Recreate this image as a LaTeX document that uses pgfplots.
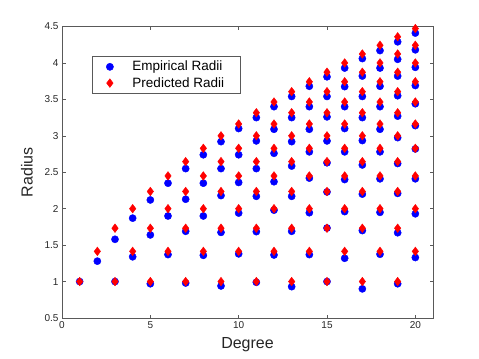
\documentclass[border=0pt]{standalone}
\usepackage{pgfplots}
\pgfplotsset{compat=1.18}
\usepackage{fontspec}
\setmainfont{Liberation Sans}
\begin{document}
\begin{tikzpicture}
\useasboundingbox (0,0) rectangle (479bp,359bp);
\begin{axis}[
  at={(62bp,41bp)}, anchor=south west,
  scale only axis, width=371bp, height=291.5bp,
  xmin=0, xmax=21, ymin=0.5, ymax=4.5,
  xtick={0,5,10,15,20},
  ytick={0.5,1,1.5,2,2.5,3,3.5,4,4.5},
  tick align=inside, tick pos=both,
  major tick length=3.5bp,
  axis line style={black!65, line width=0.5bp},
  every tick/.style={black!65, line width=0.5bp},
  /pgf/number format/assume math mode=true,
  tick label style={font=\fontsize{10bp}{12bp}\selectfont, text=black!85},
  xlabel={Degree}, ylabel={Radius},
  label style={font=\fontsize{16bp}{19bp}\selectfont, text=black!85},
  xlabel style={yshift=-2bp},
  ylabel style={yshift=5bp},
  legend style={at={(rel axis cs:0.081,0.899)}, anchor=north west,
    draw=black!65, line width=0.5bp, inner xsep=14bp, inner ysep=3bp,
    font=\fontsize{13.5bp}{16bp}\selectfont, column sep=17bp, row sep=1bp,
    cells={anchor=west}},
]
\addplot[only marks, mark=*, mark size=3.6bp, color=blue, mark options={draw=blue, fill=blue}] coordinates {
(1,1.00)
(2,1.28)
(3,1.58) (3,1.00)
(4,1.87) (4,1.34)
(5,2.12) (5,1.64) (5,0.97)
(6,2.35) (6,1.90) (6,1.37)
(7,2.55) (7,2.13) (7,1.69) (7,0.98)
(8,2.74) (8,2.35) (8,1.90) (8,1.36)
(9,2.92) (9,2.55) (9,2.18) (9,1.675) (9,0.94)
(10,3.10) (10,2.74) (10,2.36) (10,1.94) (10,1.38)
(11,3.25) (11,2.93) (11,2.55) (11,2.17) (11,1.685) (11,0.99)
(12,3.40) (12,3.09) (12,2.76) (12,2.37) (12,1.98) (12,1.365)
(13,3.54) (13,3.25) (13,2.92) (13,2.585) (13,2.17) (13,1.69) (13,0.93)
(14,3.68) (14,3.40) (14,3.09) (14,2.78) (14,2.42) (14,1.945) (14,1.37)
(15,3.81) (15,3.54) (15,3.26) (15,2.93) (15,2.63) (15,2.23) (15,1.735) (15,1.00)
(16,3.93) (16,3.675) (16,3.40) (16,3.10) (16,2.78) (16,2.40) (16,1.96) (16,1.32)
(17,4.06) (17,3.82) (17,3.54) (17,3.25) (17,2.935) (17,2.60) (17,2.20) (17,1.70) (17,0.90)
(18,4.17) (18,3.93) (18,3.68) (18,3.40) (18,3.09) (18,2.78) (18,2.41) (18,1.95) (18,1.375)
(19,4.29) (19,4.05) (19,3.82) (19,3.55) (19,3.27) (19,2.975) (19,2.62) (19,2.21) (19,1.67) (19,0.97)
(20,4.41) (20,4.18) (20,3.94) (20,3.69) (20,3.44) (20,3.14) (20,2.82) (20,2.41) (20,1.93) (20,1.33)
};
\addlegendentry{Empirical Radii}
\addplot[only marks, mark=diamond*, mark size=4.3bp, color=red, mark options={draw=red, fill=red}] coordinates {
(1,1)
(2,1.4142)
(3,1.7321) (3,1)
(4,2) (4,1.4142)
(5,2.2361) (5,1.7321) (5,1)
(6,2.4495) (6,2) (6,1.4142)
(7,2.6458) (7,2.2361) (7,1.7321) (7,1)
(8,2.8284) (8,2.4495) (8,2) (8,1.4142)
(9,3) (9,2.6458) (9,2.2361) (9,1.7321) (9,1)
(10,3.1623) (10,2.8284) (10,2.4495) (10,2) (10,1.4142)
(11,3.3166) (11,3) (11,2.6458) (11,2.2361) (11,1.7321) (11,1)
(12,3.4641) (12,3.1623) (12,2.8284) (12,2.4495) (12,2) (12,1.4142)
(13,3.6056) (13,3.3166) (13,3) (13,2.6458) (13,2.2361) (13,1.7321) (13,1)
(14,3.7417) (14,3.4641) (14,3.1623) (14,2.8284) (14,2.4495) (14,2) (14,1.4142)
(15,3.8730) (15,3.6056) (15,3.3166) (15,3) (15,2.6458) (15,2.2361) (15,1.7321) (15,1)
(16,4) (16,3.7417) (16,3.4641) (16,3.1623) (16,2.8284) (16,2.4495) (16,2) (16,1.4142)
(17,4.1231) (17,3.8730) (17,3.6056) (17,3.3166) (17,3) (17,2.6458) (17,2.2361) (17,1.7321) (17,1)
(18,4.2426) (18,4) (18,3.7417) (18,3.4641) (18,3.1623) (18,2.8284) (18,2.4495) (18,2) (18,1.4142)
(19,4.3589) (19,4.1231) (19,3.8730) (19,3.6056) (19,3.3166) (19,3) (19,2.6458) (19,2.2361) (19,1.7321) (19,1)
(20,4.4721) (20,4.2426) (20,4) (20,3.7417) (20,3.4641) (20,3.1623) (20,2.8284) (20,2.4495) (20,2) (20,1.4142)
};
\addlegendentry{Predicted Radii}
\end{axis}
\end{tikzpicture}
\end{document}
